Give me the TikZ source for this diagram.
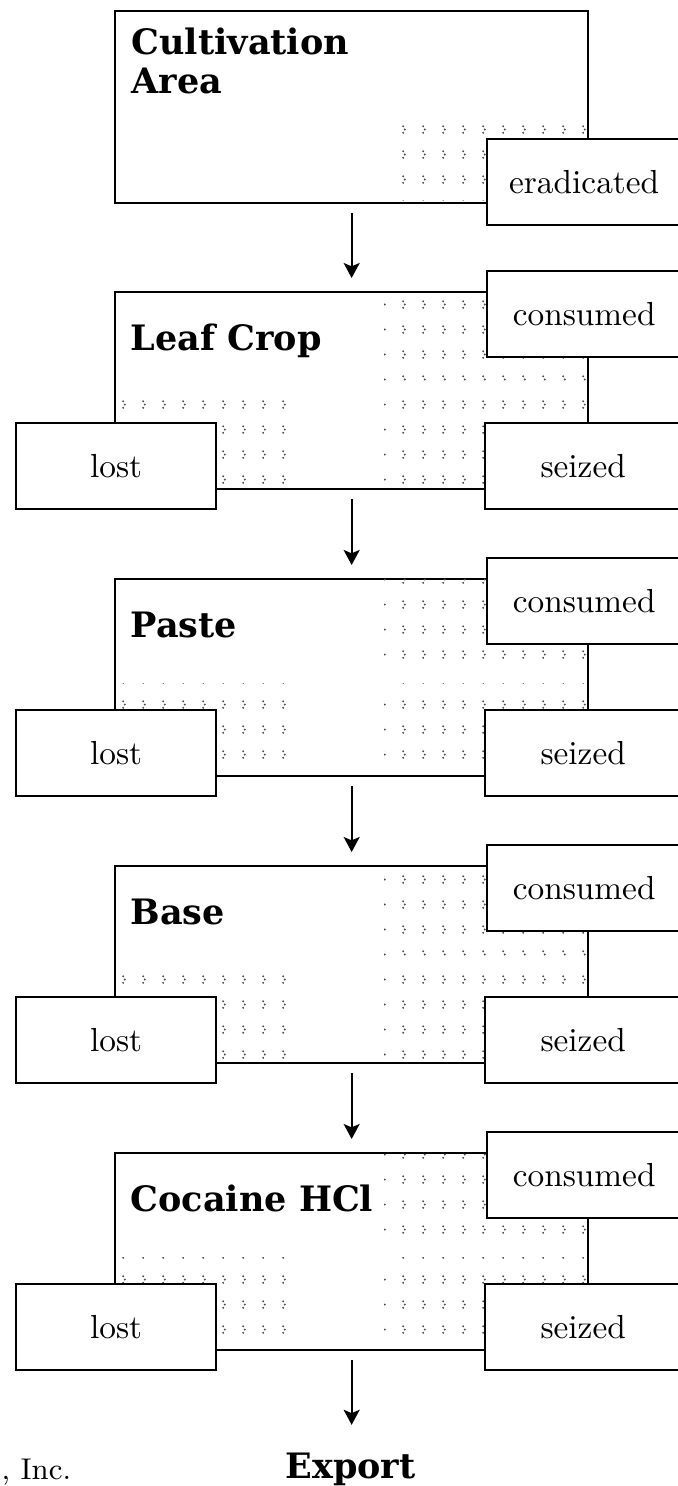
\documentclass[tikz,border=0pt]{standalone}
\usepackage{fontspec}
\newfontfamily\headfont{DejaVu Serif}
\usetikzlibrary{arrows.meta,patterns}

\pgfdeclarepatternformonly{speckles}{\pgfpointorigin}{\pgfpoint{6pt}{7.5pt}}{\pgfpoint{6pt}{7.5pt}}{
  \pgfpathcircle{\pgfpoint{1pt}{1pt}}{0.33pt}
  \pgfpathcircle{\pgfpoint{1.5pt}{2pt}}{0.33pt}
  \pgfpathcircle{\pgfpoint{1pt}{3pt}}{0.33pt}
  \pgfusepath{fill}}

\begin{document}
\begin{tikzpicture}[
    x=0.3pt, y=-0.3pt,
    stage/.style={draw, line width=0.7pt, fill=white, anchor=north west, inner sep=0pt,
      minimum width=141.9pt, minimum height=59.1pt},
    tag/.style={draw, line width=0.7pt, fill=white, anchor=north west, inner sep=0pt,
      minimum height=25.8pt, font=\fontsize{10}{12}\selectfont},
    title/.style={anchor=base west, inner sep=0pt, font=\headfont\bfseries\fontsize{10.5}{11.7}\selectfont},
    flow/.style={-{Stealth[length=4.5pt,width=4.8pt,inset=1pt]}, line width=0.6pt,
      shorten <=2.7pt, shorten >=3.9pt},
    specks/.style={pattern=speckles, pattern color=black!70}
    ]
  \useasboundingbox (0,0) rectangle (678,1486);

  % first stage
  \node [stage, minimum height=57.6pt] (s1) at (114,10) {};
  \fill [specks] (390,115) rectangle (587,200);
  \node [title, anchor=north west, align=left] (t1) at (131,27) {Cultivation\\Area};
  \node [tag, minimum width=58.2pt] (e1) at (486,138) {eradicated};

  % stages with losses
  \foreach \n/\T/\name in {2/291/Leaf Crop,3/578/Paste,4/865/Base,5/1152/Cocaine HCl} {
    \node [stage] (s\n) at (114,\T) {};
    \fill [specks] (384,\T) rectangle (587,{\T+90});
    \fill [specks] (384,{\T+105}) rectangle (587,{\T+195});
    \fill [specks] (116,{\T+105}) rectangle (300,{\T+195});
    \node [title] (t\n) at (130,{\T+59}) {\name};
    \node [tag, minimum width=58.2pt] (c\n) at (486,{\T-21}) {consumed};
    \node [tag, minimum width=60pt] (l\n) at (15,{\T+131}) {lost};
    \node [tag, minimum width=58.8pt] (z\n) at (484,{\T+131}) {seized};
  }

  \node [title, anchor=base] (exp) at (350.5,1478) {Export};
  \node [anchor=base west, inner sep=0pt, font=\fontsize{9}{11}\selectfont] (inc) at (1,1479) {, Inc.};

  \foreach \a/\b in {1/2,2/3,3/4,4/5}
    \draw [flow] (s\a) -- (s\b);
  \draw [flow, shorten >=8.1pt] (s5) -- (s5 |- exp.north);
\end{tikzpicture}
\end{document}
